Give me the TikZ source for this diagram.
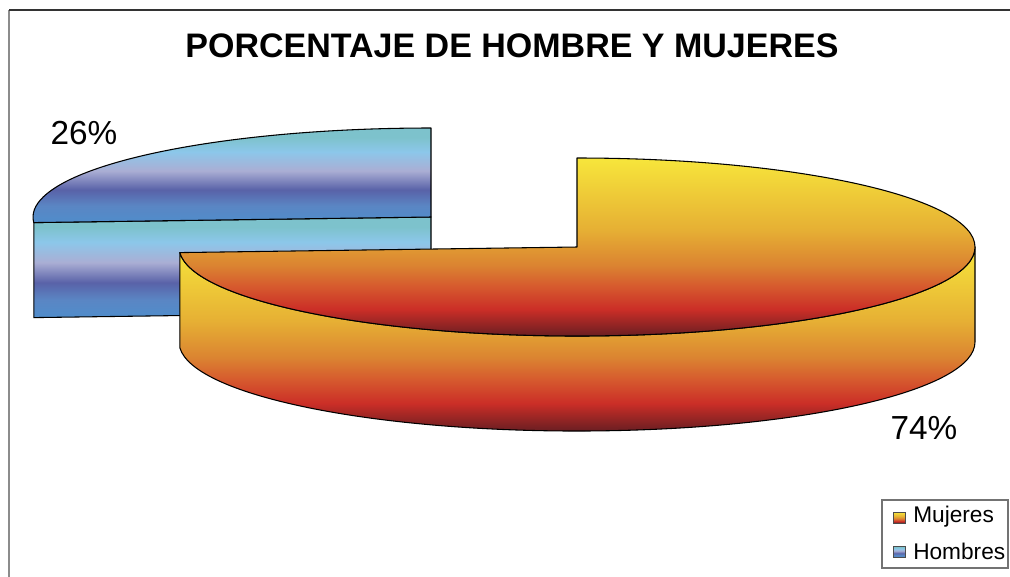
\documentclass[tikz,border=0pt]{standalone}
\usepackage{fontspec}
\setmainfont{Liberation Sans}
\definecolor{fire0}{HTML}{F7E63B}
\definecolor{fire1}{HTML}{E6B034}
\definecolor{fire2}{HTML}{DB8431}
\definecolor{fire3}{HTML}{D65A2E}
\definecolor{fire4}{HTML}{CB2E27}
\definecolor{fire5}{HTML}{6A1E22}
\definecolor{sea0}{HTML}{7DC2CC}
\definecolor{sea1}{HTML}{8CC7EA}
\definecolor{sea2}{HTML}{AAAED4}
\definecolor{sea3}{HTML}{5962A8}
\definecolor{sea4}{HTML}{5A86C4}
\definecolor{sea5}{HTML}{4F8DCB}
\pgfdeclareverticalshading{fireband}{100bp}{color(0bp)=(fire5); color(25bp)=(fire5); color(32.5bp)=(fire4); color(39bp)=(fire3); color(45bp)=(fire2); color(55bp)=(fire1); color(75bp)=(fire0); color(100bp)=(fire0)}
\pgfdeclareverticalshading{seaband}{100bp}{color(0bp)=(sea5); color(25bp)=(sea5); color(34bp)=(sea4); color(42.5bp)=(sea3); color(52.5bp)=(sea2); color(62.5bp)=(sea1); color(70bp)=(sea0); color(75bp)=(sea0); color(100bp)=(sea0)}
\begin{document}
\begin{tikzpicture}[x=0.75pt,y=-0.75pt,
  edge/.style={draw=black,line width=0.8pt,line join=round},
  pct/.style={font=\fontsize{25}{30}\selectfont,inner sep=0pt},
  legtext/.style={font=\fontsize{17}{20}\selectfont,inner sep=0pt,anchor=west},
  legmark/.style={draw=black!70,line width=0.6pt}]
\useasboundingbox (0,0) rectangle (1010,576);
\fill[white] (0,0) rectangle (1010,576);
% frame
\draw[color=black!45,line width=1.5pt] (9,10) -- (9,577);
\draw[color=black!80,line width=1.2pt] (9,10) -- (1011,10);
% title
\node[font=\bfseries\fontsize{25.5}{30}\selectfont,inner sep=0pt] (title) at (512,46) {PORCENTAJE DE HOMBRE Y MUJERES};
% ---- Hombres slice (exploded) ----
% cut face
\begin{scope}
\clip (431,217) -- (33.8,222.6) -- (33.8,317.6) -- (431,312) -- cycle;
\shade[shading=seaband] (33,217) rectangle (432,318);
\end{scope}
\draw[edge] (431,217) -- (33.8,222.6) -- (33.8,317.6) -- (431,312) -- cycle;
% top surface
\begin{scope}
\clip (431,217) -- (431,128) arc[start angle=-90,end angle=-183.6,x radius=398,y radius=89] -- cycle;
\shade[shading=seaband] (30,128) rectangle (432,223);
\end{scope}
\draw[edge] (431,217) -- (431,128) arc[start angle=-90,end angle=-183.6,x radius=398,y radius=89] -- cycle;
% ---- Mujeres slice ----
% side wall
\begin{scope}
\clip (179.8,252.6) -- (179.8,347.6) arc[start angle=176.4,end angle=0,x radius=398,y radius=89] -- (975,247) arc[start angle=0,end angle=176.4,x radius=398,y radius=89] -- cycle;
\shade[shading=fireband] (178,247) rectangle (977,431);
\end{scope}
\draw[edge] (179.8,252.6) -- (179.8,347.6) arc[start angle=176.4,end angle=0,x radius=398,y radius=89] -- (975,247) arc[start angle=0,end angle=176.4,x radius=398,y radius=89] -- cycle;
% top surface
\begin{scope}
\clip (577,247) -- (577,158) arc[start angle=-90,end angle=176.4,x radius=398,y radius=89] -- cycle;
\shade[shading=fireband] (178,158) rectangle (977,336);
\end{scope}
\draw[edge] (577,247) -- (577,158) arc[start angle=-90,end angle=176.4,x radius=398,y radius=89] -- cycle;
% labels
\node[pct] (p26) at (84,133) {26\%};
\node[pct] (p74) at (924,428) {74\%};
% legend
\draw[color=black!55,line width=0.8pt] (882,500) rectangle (1008,568);
\shade[shading=fireband] (893,512) rectangle (905,523);
\draw[legmark] (893,512) rectangle (905,523);
\node[legtext] (lm) at (913,517) {Mujeres};
\shade[shading=seaband] (893,546) rectangle (905,557);
\draw[legmark] (893,546) rectangle (905,557);
\node[legtext] (lh) at (913,551) {Hombres};
\end{tikzpicture}
\end{document}
